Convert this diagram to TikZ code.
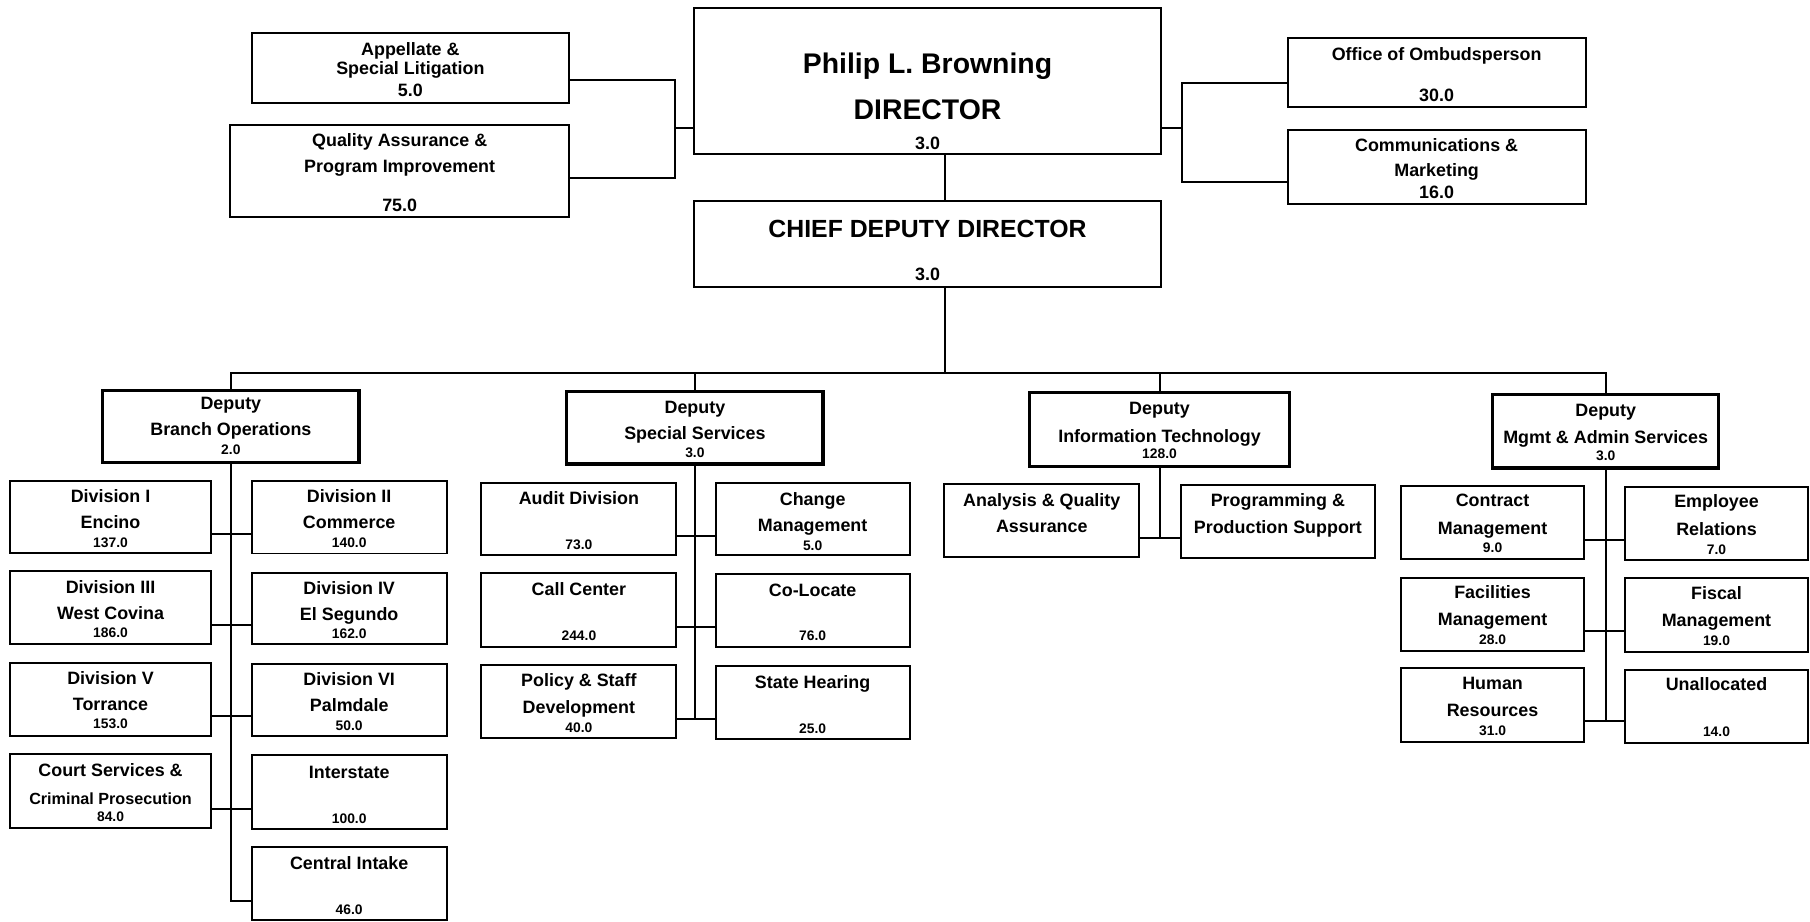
\documentclass[tikz,border=0pt]{standalone}
\usepackage{fontspec}
\setmainfont{Liberation Sans}
\begin{document}
\begin{tikzpicture}[x=1pt,y=-1pt,
  box/.style={draw=black, line width=1.7pt, fill=white, outer sep=0pt, inner sep=0pt},
  dep/.style={box, line width=2.8pt},
  conn/.style={draw=black, line width=1.7pt},
  geom/.style n args={4}{minimum width={(#3-#1)*1pt}, minimum height={(#4-#2)*1pt},
                         at={({(#1+#3)/2},{(#2+#4)/2})}},
  lbl/.style={anchor=base, inner sep=0pt, font=\fontsize{15.5}{18}\selectfont\bfseries},
  numl/.style={anchor=base, inner sep=0pt, font=\fontsize{12}{14}\selectfont\bfseries},
  smalll/.style={anchor=base, inner sep=0pt, font=\fontsize{14}{16}\selectfont\bfseries},
  bigl/.style={anchor=base, inner sep=0pt, font=\fontsize{24.6}{28}\selectfont\bfseries},
  chiefl/.style={anchor=base, inner sep=0pt, font=\fontsize{21.5}{25}\selectfont\bfseries},
  T/.style 2 args={label={[lbl,yshift=-#1pt]north:#2}},
  S/.style 2 args={label={[numl,yshift=-#1pt]north:#2}},
  P/.style 2 args={label={[smalll,yshift=-#1pt]north:#2}},
  D/.style 2 args={label={[bigl,yshift=-#1pt]north:#2}},
  C/.style 2 args={label={[chiefl,yshift=-#1pt]north:#2}},
]
\fill[white] (0,0) rectangle (1568,798);
\useasboundingbox (0,0) rectangle (1568,798);

% ---------- executive level ----------
\node[box, geom={218}{29}{493}{89}, T={18.7}{Appellate \&}, T={35.2}{Special Litigation}, T={54.8}{5.0}] (app) {};
\node[box, geom={199.5}{108.3}{493}{188}, T={18.7}{Quality Assurance \&}, T={41}{Program Improvement}, T={75}{75.0}] (qa) {};
\node[box, geom={601}{7.2}{1006}{133.7}, D={56.3}{Philip L. Browning}, D={96.2}{DIRECTOR}, T={122.2}{3.0}] (dir) {};
\node[box, geom={601}{174}{1006}{248.3}, C={31.6}{CHIEF DEPUTY DIRECTOR}, T={68.6}{3.0}] (chief) {};
\node[box, geom={1115.5}{32.6}{1373.6}{93}, T={19.4}{Office of Ombudsperson}, T={55.4}{30.0}] (omb) {};
\node[box, geom={1115.5}{112.6}{1373.6}{176.7}, T={18.8}{Communications \&}, T={40.4}{Marketing}, T={59.2}{16.0}] (comm) {};

% ---------- deputies ----------
\node[dep, geom={89}{338}{311}{400.7}, T={17}{Deputy}, T={39.5}{Branch Operations}, S={55.8}{2.0}] (branch) {};
\node[dep, geom={491}{339}{713}{402}, T={19}{Deputy}, T={42}{Special Services}, S={57}{3.0}] (spec) {};
\node[dep, geom={892}{340}{1117}{404}, T={19.5}{Deputy}, T={43}{Information Technology}, S={57}{128.0}] (it) {};
\node[dep, geom={1293}{342}{1489}{405.5}, T={19}{Deputy}, T={42}{Mgmt \& Admin Services}, S={56.5}{3.0}] (mgmt) {};

% ---------- branch operations ----------
\node[box, geom={9}{416.5}{182.5}{479}, T={19}{Division I}, T={41.5}{Encino}, S={57.5}{137.0}] (div1) {};
\node[box, geom={218}{416.5}{387}{479.5}, T={19}{Division II}, T={41.5}{Commerce}, S={57.5}{140.0}] (div2) {};
\node[box, geom={9}{495}{182.5}{558}, T={19}{Division III}, T={41.5}{West Covina}, S={57.5}{186.0}] (div3) {};
\node[box, geom={218}{496}{387}{558}, T={19}{Division IV}, T={41.5}{El Segundo}, S={57.5}{162.0}] (div4) {};
\node[box, geom={9}{574}{182.5}{637.6}, T={19}{Division V}, T={41.5}{Torrance}, S={57.5}{153.0}] (div5) {};
\node[box, geom={218}{575}{387}{638}, T={19}{Division VI}, T={41.5}{Palmdale}, S={57.5}{50.0}] (div6) {};
\node[box, geom={9}{653}{182.5}{717}, T={20}{Court Services \&}, P={43.5}{Criminal Prosecution}, S={59}{84.0}] (court) {};
\node[box, geom={218}{654}{387}{718}, T={20}{Interstate}, S={59}{100.0}] (inter) {};
\node[box, geom={218}{734}{387}{796.8}, T={19}{Central Intake}, S={58}{46.0}] (cint) {};

% ---------- special services ----------
\node[box, geom={417}{418}{586}{480.5}, T={19}{Audit Division}, S={58}{73.0}] (audit) {};
\node[box, geom={620}{418.7}{788}{481}, T={19.5}{Change}, T={41.5}{Management}, S={58}{5.0}] (change) {};
\node[box, geom={417}{496.7}{586}{560.2}, T={19}{Call Center}, S={58}{244.0}] (call) {};
\node[box, geom={620}{497.6}{788}{560.8}, T={19}{Co-Locate}, S={57}{76.0}] (coloc) {};
\node[box, geom={417}{576}{586}{639.6}, T={19}{Policy \& Staff}, T={42}{Development}, S={58.3}{40.0}] (policy) {};
\node[box, geom={620}{577}{788}{640.2}, T={19.3}{State Hearing}, S={58.3}{25.0}] (state) {};

% ---------- information technology ----------
\node[box, geom={818}{419}{987}{482.6}, T={19.5}{Analysis \& Quality}, T={42}{Assurance}] (aqa) {};
\node[box, geom={1023}{420}{1191}{483}, T={19}{Programming \&}, T={42}{Production Support}] (pps) {};

% ---------- management & admin services ----------
\node[box, geom={1214}{421}{1372}{484}, T={18}{Contract}, T={41.6}{Management}, S={58}{9.0}] (contract) {};
\node[box, geom={1408}{422}{1566}{485}, T={18}{Employee}, T={41.6}{Relations}, S={58}{7.0}] (employee) {};
\node[box, geom={1214}{500.5}{1372}{564}, T={18}{Facilities}, T={41.6}{Management}, S={58}{28.0}] (facil) {};
\node[box, geom={1408}{501}{1566}{565}, T={18}{Fiscal}, T={41.6}{Management}, S={58}{19.0}] (fiscal) {};
\node[box, geom={1214}{579}{1372}{643}, T={18}{Human}, T={41.6}{Resources}, S={58}{31.0}] (hr) {};
\node[box, geom={1408}{580.5}{1566}{644}, T={18}{Unallocated}, S={57.5}{14.0}] (unalloc) {};

% ---------- junction points ----------
\coordinate (appj)  at (585,69.3);
\coordinate (qaj)   at (585,154.5);
\coordinate (lbar)  at (585,110.8);
\coordinate (ombj)  at (1023.6,72.2);
\coordinate (commj) at (1023.6,157.4);
\coordinate (rbar)  at (1023.6,110.8);
\coordinate (bus)   at (818.7,323);
\coordinate (b1) at (200,462.6);
\coordinate (b2) at (200,541.5);
\coordinate (b3) at (200,620.6);
\coordinate (b4) at (200,700.8);
\coordinate (b5) at (200,780.6);
\coordinate (s1) at (602,464.4);
\coordinate (s2) at (602,543);
\coordinate (s3) at (602,622.9);
\coordinate (i1) at (1004.5,466);
\coordinate (m1) at (1391,468);
\coordinate (m2) at (1391,547);
\coordinate (m3) at (1391,625);

% ---------- connectors ----------
\draw[conn] (app.east |- appj) -- (appj) -- (qaj) -- (qa.east |- qaj);
\draw[conn] (dir.west |- lbar) -- (lbar);
\draw[conn] (omb.west |- ombj) -- (ombj) -- (commj) -- (comm.west |- commj);
\draw[conn] (dir.east |- rbar) -- (rbar);
\draw[conn] (dir.south -| bus) -- (chief.north -| bus);
\draw[conn] (chief.south -| bus) -- (bus);
\draw[conn] (branch.north) -- (branch.north |- bus) -- (mgmt.north |- bus) -- (mgmt.north);
\draw[conn] (spec.north |- bus) -- (spec.north);
\draw[conn] (it.north |- bus) -- (it.north);

\draw[conn] (branch.south) -- (b5) -- (cint.west |- b5);
\draw[conn] (div1.east |- b1) -- (div2.west |- b1);
\draw[conn] (div3.east |- b2) -- (div4.west |- b2);
\draw[conn] (div5.east |- b3) -- (div6.west |- b3);
\draw[conn] (court.east |- b4) -- (inter.west |- b4);

\draw[conn] (spec.south) -- (s3);
\draw[conn] (audit.east |- s1) -- (change.west |- s1);
\draw[conn] (call.east |- s2) -- (coloc.west |- s2);
\draw[conn] (policy.east |- s3) -- (state.west |- s3);

\draw[conn] (it.south) -- (i1);
\draw[conn] (aqa.east |- i1) -- (pps.west |- i1);

\draw[conn] (mgmt.south) -- (m3);
\draw[conn] (contract.east |- m1) -- (employee.west |- m1);
\draw[conn] (facil.east |- m2) -- (fiscal.west |- m2);
\draw[conn] (hr.east |- m3) -- (unalloc.west |- m3);
\end{tikzpicture}
\end{document}
